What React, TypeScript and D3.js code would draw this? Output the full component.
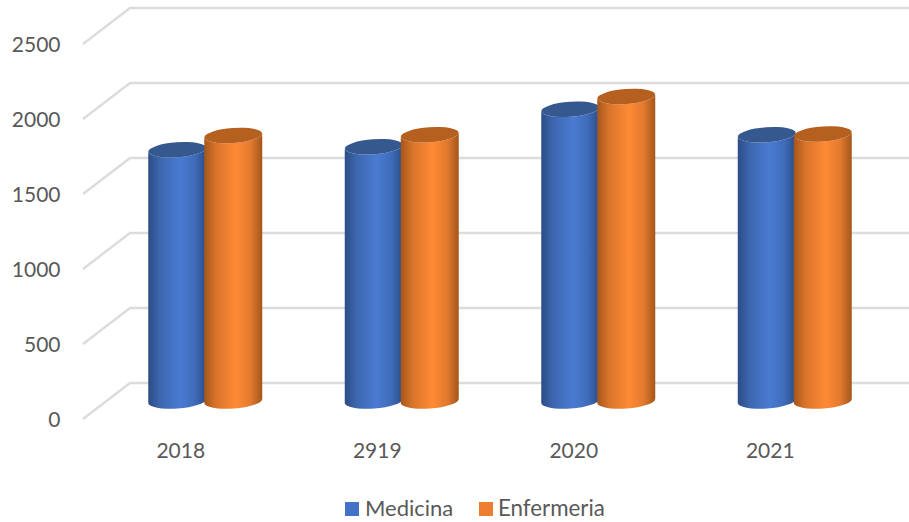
import React from "react";
import * as d3 from "d3";

const categories = ["2018", "2919", "2020", "2021"];
const medicina = [1675, 1695, 1945, 1775];
const enfermeria = [1770, 1775, 2030, 1780];
const ticks = [0, 500, 1000, 1500, 2000, 2500];
const seriesNames = ["Medicina", "Enfermeria"];

const W = 909, H = 522;
const font = "Lato, 'Open Sans', sans-serif";
const textColor = "#595959";

const yBack = d3.scaleLinear().domain([0, 2500]).range([383, 8]);
const yFront = d3.scaleLinear().domain([0, 2500]).range([419, 44]);
const yBar = d3.scaleLinear().domain([0, 2500]).range([401, 26]);
const x = d3.scaleBand().domain(categories).range([107.5, 893.5]);
const barW = 58;
const ry = 7.5;
const tilt = -4;

function Cylinder({ cx, v, side, top }: { cx: number; v: number; side: string; top: string }) {
  const x0 = cx - barW / 2, x1 = cx + barW / 2, yT = yBar(v), yB = yBar(0), rx = barW / 2;
  const d = (barW / 2) * Math.sin((-tilt * Math.PI) / 180);
  const body = `M${x0},${yT + d} L${x0},${yB + d} A${rx},${ry} ${tilt} 0 0 ${x1},${yB - d} L${x1},${yT - d} A${rx},${ry} ${tilt} 0 1 ${x0},${yT + d} Z`;
  return (
    <g>
      <path d={body} fill={`url(#${side})`} />
      <ellipse cx={cx} cy={yT} rx={rx} ry={ry} fill={top} transform={`rotate(${tilt} ${cx} ${yT})`} />
    </g>
  );
}

export default function App() {
  const band = x.bandwidth();
  return (
    <svg width={W} height={H} style={{ position: "absolute", left: 0, top: 0, background: "#fff" }}>
      <defs>
        <linearGradient id="blueSide">
          <stop offset="0" stopColor="#2c4d86" />
          <stop offset="0.2" stopColor="#3c66ae" />
          <stop offset="0.55" stopColor="#4a7bd2" />
          <stop offset="0.8" stopColor="#3f6cba" />
          <stop offset="1" stopColor="#2c4d86" />
        </linearGradient>
        <linearGradient id="orangeSide">
          <stop offset="0" stopColor="#a4561c" />
          <stop offset="0.2" stopColor="#d9742b" />
          <stop offset="0.55" stopColor="#ff8a35" />
          <stop offset="0.8" stopColor="#e27a2e" />
          <stop offset="1" stopColor="#a4561c" />
        </linearGradient>
      </defs>

      {ticks.map((t) => (
        <polyline
          key={t}
          points={`83,${yFront(t)} 130,${yBack(t)} ${W},${yBack(t)}`}
          fill="none"
          stroke="#dcdcdc"
          strokeWidth={2.4}
        />
      ))}

      {ticks.map((t) => (
        <text key={t} x={60.5} y={yFront(t) + 8} textAnchor="end" fontFamily={font} fontSize={21} fill={textColor}>
          {t}
        </text>
      ))}

      {categories.map((c, i) => {
        const cx = (x(c) as number) + band / 2;
        return (
          <g key={c}>
            <Cylinder cx={cx - 28.5} v={medicina[i]} side="blueSide" top="#35588f" />
            <Cylinder cx={cx + 27.5} v={enfermeria[i]} side="orangeSide" top="#b5601f" />
            <text x={cx - 25} y={458} textAnchor="middle" fontFamily={font} fontSize={21} fill={textColor}>
              {c}
            </text>
          </g>
        );
      })}

      <rect x={345} y={502} width={14} height={14} fill="#4472c4" />
      <text x={365} y={516} fontFamily={font} fontSize={22} fill={textColor}>{seriesNames[0]}</text>
      <rect x={479} y={502} width={14} height={14} fill="#ed7d31" />
      <text x={498} y={516} fontFamily={font} fontSize={22.3} fill={textColor}>{seriesNames[1]}</text>
    </svg>
  );
}
